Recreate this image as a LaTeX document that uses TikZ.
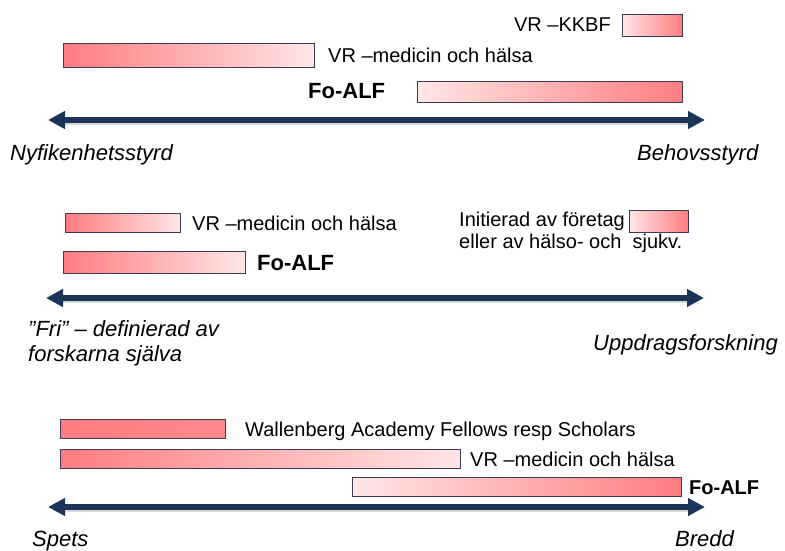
\documentclass[tikz,border=0pt]{standalone}
\usepackage{fontspec}
\setmainfont{Liberation Sans}
\usetikzlibrary{arrows.meta}
\definecolor{barred}{RGB}{255,124,128}
\definecolor{barlight}{RGB}{255,230,230}
\definecolor{barred2}{RGB}{255,136,138}
\definecolor{bardraw}{RGB}{60,60,85}
\definecolor{axisblue}{RGB}{28,52,88}
\tikzset{
  bar/.style={draw=bardraw, line width=0.9pt, inner sep=0pt, anchor=north west},
  redlight/.style={left color=barred, right color=barlight},
  lightred/.style={left color=barlight, right color=barred},
  lbl/.style={inner sep=0pt, font=\fontsize{20}{22}\selectfont},
  blbl/.style={inner sep=0pt, font=\fontsize{22}{24}\selectfont\bfseries},
  ilbl/.style={inner sep=0pt, font=\fontsize{22}{24}\selectfont\itshape},
  axisline/.style={draw=axisblue, line width=6pt,
    {Triangle[length=17pt,width=17pt]}-{Triangle[length=17pt,width=17pt]}},
  axisshadow/.style={draw=black!25, line width=2pt, opacity=0.6}
}
\begin{document}
\begin{tikzpicture}[x=1pt,y=-1pt]
\useasboundingbox[fill=white] (0,0) rectangle (785,551);

% ---------- Panel 1 ----------
\node[bar, lightred, minimum width=60pt, minimum height=22pt] (kkbf) at (622,14) {};
\node[bar, redlight, minimum width=251pt, minimum height=24pt] (vrm1) at (63,43) {};
\node[bar, lightred, minimum width=265pt, minimum height=21pt] (alf1) at (417,81) {};
\node[lbl, anchor=base east] (tkkbf) at (611,32) {VR –KKBF};
\node[lbl, anchor=base west] (tvrm1) at (328,63) {VR –medicin och hälsa};
\node[blbl, anchor=base west] (talf1) at (308,99) {Fo-ALF};
\coordinate (a1l) at (48,120);
\coordinate (a1r) at (705,120);
\coordinate (s1l) at (60,124);
\coordinate (s1r) at (692,124);
\draw[axisshadow] (s1l) -- (s1r);
\draw[axisline] (a1l) -- (a1r);
\node[ilbl, anchor=base west] (tny) at (10,160) {Nyfikenhetsstyrd};
\node[ilbl, anchor=base west] (tbe) at (637,160) {Behovsstyrd};

% ---------- Panel 2 ----------
\node[bar, redlight, minimum width=115pt, minimum height=19pt] (vrm2) at (65,213) {};
\node[bar, redlight, minimum width=182pt, minimum height=22pt] (alf2) at (63,251) {};
\node[bar, lightred, minimum width=59pt, minimum height=22pt] (init) at (629,210) {};
\node[lbl, anchor=base west] (tvrm2) at (192,230) {VR –medicin och hälsa};
\node[blbl, anchor=base west] (talf2) at (257,270) {Fo-ALF};
\node[lbl, anchor=north west, align=left] (tinit) at (459,212)
  {Initierad av företag\\eller av hälso- och~~sjukv.};
\coordinate (a2l) at (46,298);
\coordinate (a2r) at (704,298);
\coordinate (s2l) at (58,302);
\coordinate (s2r) at (691,302);
\draw[axisshadow] (s2l) -- (s2r);
\draw[axisline] (a2l) -- (a2r);
\node[ilbl, font=\fontsize{22}{25}\selectfont\itshape, anchor=north west, align=left] (tfri) at (28,320)
  {”Fri” – definierad av\\forskarna själva};
\node[ilbl, anchor=base west] (tupp) at (593,350) {Uppdragsforskning};

% ---------- Panel 3 ----------
\node[bar, left color=barred, right color=barred2, minimum width=165pt, minimum height=19pt] (wal) at (60,419) {};
\node[bar, redlight, minimum width=400pt, minimum height=19pt] (vrm3) at (60,449) {};
\node[bar, lightred, minimum width=329pt, minimum height=19pt] (alf3) at (352,477) {};
\node[lbl, anchor=base west] (twal) at (245,436) {Wallenberg Academy Fellows resp Scholars};
\node[lbl, anchor=base west] (tvrm3) at (470,466) {VR –medicin och hälsa};
\node[blbl, font=\fontsize{20}{22}\selectfont\bfseries, anchor=base west] (talf3) at (689,494) {Fo-ALF};
\coordinate (a3l) at (48,507);
\coordinate (a3r) at (705,507);
\coordinate (s3l) at (60,511);
\coordinate (s3r) at (692,511);
\draw[axisshadow] (s3l) -- (s3r);
\draw[axisline] (a3l) -- (a3r);
\node[ilbl, anchor=base west] (tsp) at (32,546) {Spets};
\node[ilbl, anchor=base west] (tbr) at (675,546) {Bredd};
\end{tikzpicture}
\end{document}
